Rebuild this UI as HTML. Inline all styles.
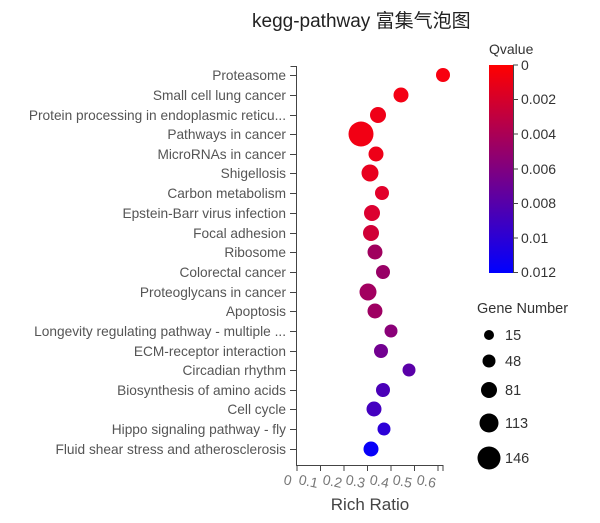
<!DOCTYPE html>
<html><head><meta charset="utf-8"><style>
html,body{margin:0;padding:0;background:#fff;}
svg{display:block;font-family:"Liberation Sans","Noto Sans CJK SC",sans-serif;}
</style></head><body>
<svg width="600" height="523" viewBox="0 0 600 523">
<defs>
<linearGradient id="g" x1="0" y1="0" x2="0" y2="1">
<stop offset="0" stop-color="#ff0000"/><stop offset="0.5" stop-color="#800080"/><stop offset="1" stop-color="#0000ff"/>
</linearGradient>
</defs>
<text x="252" y="27" font-size="19" fill="#222">kegg-pathway 富集气泡图</text>
<g stroke="#444" stroke-width="1" fill="none">
<path d="M290.5 66.5H296.5V465.5H443.5"/>
</g>
<g font-size="13.7" fill="#555" text-anchor="end">
<text x="286" y="80">Proteasome</text>
<text x="286" y="100">Small cell lung cancer</text>
<text x="286" y="120">Protein processing in endoplasmic reticu...</text>
<text x="286" y="139">Pathways in cancer</text>
<text x="286" y="159">MicroRNAs in cancer</text>
<text x="286" y="178">Shigellosis</text>
<text x="286" y="198">Carbon metabolism</text>
<text x="286" y="218">Epstein-Barr virus infection</text>
<text x="286" y="238">Focal adhesion</text>
<text x="286" y="257">Ribosome</text>
<text x="286" y="277">Colorectal cancer</text>
<text x="286" y="297">Proteoglycans in cancer</text>
<text x="286" y="316">Apoptosis</text>
<text x="286" y="336">Longevity regulating pathway - multiple ...</text>
<text x="286" y="356">ECM-receptor interaction</text>
<text x="286" y="375">Circadian rhythm</text>
<text x="286" y="395">Biosynthesis of amino acids</text>
<text x="286" y="414">Cell cycle</text>
<text x="286" y="434">Hippo signaling pathway - fly</text>
<text x="286" y="454">Fluid shear stress and atherosclerosis</text>
</g>
<g stroke="#444" stroke-width="1">
<path d="M290 75.5h6M290 95.5h6M290 115.5h6M290 134.5h6M290 154.5h6M290 173.5h6M290 193.5h6M290 213.5h6M290 233.5h6M290 252.5h6M290 272.5h6M290 292.5h6M290 311.5h6M290 331.5h6M290 351.5h6M290 370.5h6M290 390.5h6M290 409.5h6M290 429.5h6M290 449.5h6"/>
<path d="M297 465v6M320.5 465v6M344 465v6M367.5 465v6M391 465v6M414.5 465v6M438 465v6M443 465v6"/>
</g>
<g font-size="14" fill="#777">
<text transform="translate(283,484) rotate(12)">0</text>
<text transform="translate(298,484) rotate(12)">0.1</text>
<text transform="translate(322,484) rotate(12)">0.2</text>
<text transform="translate(345,484) rotate(12)">0.3</text>
<text transform="translate(369,484) rotate(12)">0.4</text>
<text transform="translate(392,484) rotate(12)">0.5</text>
<text transform="translate(416,484) rotate(12)">0.6</text>
</g>
<text x="370" y="510" font-size="17" fill="#444" text-anchor="middle">Rich Ratio</text>
<g>
<circle cx="443" cy="75" r="7" fill="#f80010"/>
<circle cx="401" cy="95" r="7.5" fill="#f40014"/>
<circle cx="378" cy="115" r="8" fill="#ef0018"/>
<circle cx="361" cy="134" r="12.5" fill="#f20014"/>
<circle cx="376" cy="154" r="7.5" fill="#ee0018"/>
<circle cx="370" cy="173" r="8.5" fill="#e8001e"/>
<circle cx="382" cy="193" r="7" fill="#e2002a"/>
<circle cx="372" cy="213" r="8" fill="#dc0030"/>
<circle cx="371" cy="233" r="8" fill="#d00036"/>
<circle cx="375" cy="252" r="7.5" fill="#a0005e"/>
<circle cx="383" cy="272" r="7" fill="#980066"/>
<circle cx="368" cy="292" r="8.5" fill="#a20060"/>
<circle cx="375" cy="311" r="7.5" fill="#9e0062"/>
<circle cx="391" cy="331" r="6.5" fill="#8a0078"/>
<circle cx="381" cy="351" r="7" fill="#720090"/>
<circle cx="409" cy="370" r="6.5" fill="#5a00a8"/>
<circle cx="383" cy="390" r="7" fill="#4a00b8"/>
<circle cx="374" cy="409" r="7.5" fill="#4400c0"/>
<circle cx="384" cy="429" r="6.5" fill="#2c00d8"/>
<circle cx="371" cy="449" r="7.5" fill="#0800f8"/>
</g>
<text x="489" y="54" font-size="14" fill="#333">Qvalue</text>
<rect x="489" y="65" width="24" height="208" fill="url(#g)"/>
<g stroke="#444"><path d="M513.5 65V273M513 65h5M513 99.5h5M513 134h5M513 169h5M513 203.5h5M513 238h5M513 272.5h5"/></g>
<g font-size="14" fill="#333">
<text x="521" y="70">0</text>
<text x="521" y="104">0.002</text>
<text x="521" y="139">0.004</text>
<text x="521" y="174">0.006</text>
<text x="521" y="208">0.008</text>
<text x="521" y="243">0.01</text>
<text x="521" y="277">0.012</text>
</g>
<text x="477" y="313" font-size="14.5" fill="#333">Gene Number</text>
<g fill="#000">
<circle cx="489" cy="335" r="5"/>
<circle cx="489" cy="361" r="6.5"/>
<circle cx="489" cy="390" r="8"/>
<circle cx="489" cy="423" r="9.5"/>
<circle cx="489" cy="458" r="11.5"/>
</g>
<g font-size="14.5" fill="#333">
<text x="505" y="340">15</text>
<text x="505" y="366">48</text>
<text x="505" y="395">81</text>
<text x="505" y="428">113</text>
<text x="505" y="463">146</text>
</g>
</svg>
</body></html>
